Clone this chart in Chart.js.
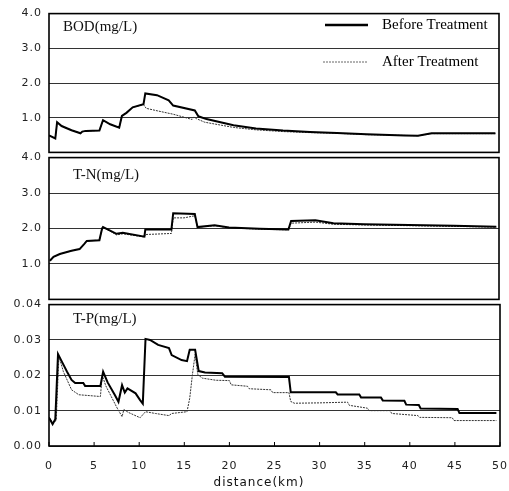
<!DOCTYPE html>
<html>
<head>
<meta charset="utf-8">
<script src="https://cdn.jsdelivr.net/npm/chart.js@4.4.1/dist/chart.umd.min.js"></script>
<style>
  html, body { margin: 0; padding: 0; background: #ffffff; }
  body { width: 509px; height: 491px; position: relative; overflow: hidden; }
  canvas { position: absolute; left: 0; }
</style>
</head>
<body>
<canvas id="c1" width="509" height="166" style="top:0px"></canvas>
<canvas id="c2" width="509" height="169" style="top:144px"></canvas>
<canvas id="c3" width="521" height="202" style="top:291px"></canvas>
<script>
// ---------------- data ----------------
const seriesNames = ['Before Treatment', 'After Treatment'];
const panelTitles = ['BOD(mg/L)', 'T-N(mg/L)', 'T-P(mg/L)'];
const xAxisTitle = 'distance(km)';

const xTickValues = [0, 5, 10, 15, 20, 25, 30, 35, 40, 45, 50];
const xTickLabels = ['0', '5', '10', '15', '20', '25', '30', '35', '40', '45', '50'];

const bodTickValues = [1, 2, 3, 4];
const bodTickLabels = ['1.0', '2.0', '3.0', '4.0'];
const tnTickValues = [1, 2, 3, 4];
const tnTickLabels = ['1.0', '2.0', '3.0', '4.0'];
const tpTickValues = [0, 0.01, 0.02, 0.03, 0.04];
const tpTickLabels = ['0.00', '0.01', '0.02', '0.03', '0.04'];

// BOD
const bodBeforeX = [0, 0.7, 0.9, 1.4, 2.5, 3.5, 3.7, 4.1, 5.6, 6.0, 6.8, 7.8, 8.1, 8.6, 9.3, 10.5, 10.7, 12.0, 13.3, 13.8, 16.2, 16.6, 17.5, 20.5, 23.0, 26.0, 29.0, 32.0, 35.3, 39.5, 41.0, 42.5, 46.0, 49.6];
const bodBefore  = [0.49, 0.40, 0.87, 0.76, 0.64, 0.55, 0.60, 0.62, 0.63, 0.93, 0.81, 0.71, 1.05, 1.14, 1.30, 1.39, 1.70, 1.65, 1.50, 1.35, 1.21, 1.04, 0.96, 0.78, 0.69, 0.63, 0.59, 0.56, 0.52, 0.49, 0.48, 0.55, 0.55, 0.55];
const bodAfterX  = [0, 0.7, 0.9, 1.4, 2.5, 3.5, 3.7, 4.1, 5.6, 6.0, 6.8, 7.8, 8.1, 8.6, 9.3, 10.5, 10.8, 12.0, 13.8, 15.9, 16.1, 16.4, 17.3, 20.5, 23.0, 26.0, 29.0, 32.0, 35.3, 39.5, 41.0, 42.5, 46.0, 49.6];
const bodAfter   = [0.49, 0.40, 0.87, 0.76, 0.64, 0.55, 0.60, 0.62, 0.63, 0.93, 0.81, 0.71, 1.05, 1.14, 1.30, 1.38, 1.27, 1.20, 1.10, 0.95, 1.02, 0.97, 0.87, 0.72, 0.65, 0.60, 0.57, 0.55, 0.51, 0.49, 0.48, 0.54, 0.54, 0.54];

// T-N
const tnBeforeX = [0.1, 0.5, 1.2, 2.5, 3.4, 3.9, 4.2, 5.6, 5.9, 6.0, 7.5, 8.2, 10.6, 10.7, 13.6, 13.8, 16.2, 16.5, 18.4, 20.0, 23.4, 26.6, 26.9, 29.6, 31.6, 35.0, 40.0, 45.0, 49.7];
const tnBefore  = [1.09, 1.20, 1.28, 1.37, 1.42, 1.56, 1.65, 1.67, 2.00, 2.04, 1.85, 1.88, 1.77, 1.97, 1.97, 2.43, 2.41, 2.04, 2.09, 2.03, 1.99, 1.97, 2.21, 2.23, 2.15, 2.12, 2.10, 2.08, 2.05];
const tnAfterX  = [0.1, 0.5, 1.2, 2.5, 3.4, 3.9, 4.2, 5.6, 5.9, 6.0, 7.5, 8.2, 10.6, 10.7, 13.6, 13.8, 15.0, 16.2, 16.5, 18.4, 20.0, 23.4, 26.6, 26.9, 29.6, 31.6, 35.0, 40.0, 45.0, 49.7];
const tnAfter   = [1.09, 1.20, 1.28, 1.37, 1.42, 1.56, 1.65, 1.67, 2.00, 2.04, 1.82, 1.85, 1.76, 1.83, 1.86, 2.30, 2.30, 2.36, 2.04, 2.08, 2.02, 1.98, 1.96, 2.15, 2.18, 2.12, 2.10, 2.08, 2.06, 2.04];

// T-P
const tpBeforeX = [0, 0.4, 0.7, 1.0, 1.4, 2.0, 2.5, 2.9, 3.8, 4.0, 5.7, 6.0, 6.5, 7.3, 7.7, 8.1, 8.4, 8.7, 9.6, 10.1, 10.4, 10.7, 11.2, 12.1, 13.3, 13.6, 14.7, 15.3, 15.6, 16.2, 16.6, 17.3, 19.2, 19.5, 26.6, 26.8, 31.8, 32.0, 34.4, 34.6, 36.8, 37.0, 39.4, 39.6, 41.0, 41.2, 45.3, 45.5, 49.6];
const tpBefore  = [0.0080, 0.0062, 0.0076, 0.0260, 0.0240, 0.0210, 0.0187, 0.0178, 0.0178, 0.0170, 0.0170, 0.0210, 0.0180, 0.0144, 0.0125, 0.0172, 0.0151, 0.0163, 0.0149, 0.0130, 0.0120, 0.0303, 0.0300, 0.0286, 0.0277, 0.0257, 0.0243, 0.0240, 0.0272, 0.0272, 0.0212, 0.0208, 0.0206, 0.0196, 0.0195, 0.0152, 0.0152, 0.0146, 0.0146, 0.0137, 0.0137, 0.0129, 0.0128, 0.0117, 0.0116, 0.0106, 0.0105, 0.0093, 0.0093];
const tpAfterX  = [0, 0.4, 0.8, 1.1, 1.6, 2.5, 3.3, 5.7, 5.9, 6.3, 7.0, 7.5, 8.1, 8.3, 8.8, 10.1, 10.7, 11.8, 13.3, 13.6, 15.3, 15.6, 15.9, 16.2, 16.5, 17.0, 18.5, 20.0, 20.2, 22.0, 22.2, 24.6, 24.8, 26.6, 26.8, 27.2, 30.0, 33.1, 33.3, 35.3, 35.5, 37.8, 38.0, 40.9, 41.1, 44.7, 44.9, 49.6];
const tpAfter   = [0.0082, 0.0066, 0.0072, 0.0254, 0.0210, 0.0159, 0.0145, 0.0140, 0.0200, 0.0170, 0.0135, 0.0110, 0.0083, 0.0103, 0.0095, 0.0080, 0.0097, 0.0092, 0.0086, 0.0092, 0.0097, 0.0135, 0.0202, 0.0260, 0.0202, 0.0192, 0.0186, 0.0185, 0.0173, 0.0169, 0.0162, 0.0159, 0.0151, 0.0151, 0.0126, 0.0121, 0.0122, 0.0124, 0.0115, 0.0107, 0.0100, 0.0100, 0.0092, 0.0086, 0.0081, 0.0080, 0.0072, 0.0072];

// ---------------- helpers ----------------
const toPoints = (xs, ys) => xs.map((x, i) => ({ x: x, y: ys[i] }));
const TICK_FONT = { family: 'DejaVu Sans', size: 11 };
const SERIF = '15px "Liberation Serif", "Times New Roman", serif';

function makeDatasets(bx, by, ax, ay) {
  return [
    { label: seriesNames[0], data: toPoints(bx, by), borderColor: '#000000', borderWidth: 2,
      pointRadius: 0, tension: 0, fill: false },
    { label: seriesNames[1], data: toPoints(ax, ay), borderColor: '#333333', borderWidth: 1,
      borderDash: [2, 1], pointRadius: 0, tension: 0, fill: false }
  ];
}

const framePlugin = {
  id: 'frame',
  beforeDraw(chart) { chart.ctx.letterSpacing = '1px'; },
  afterDatasetsDraw(chart, args, opts) {
    const { ctx, chartArea: a } = chart;
    ctx.save();
    ctx.strokeStyle = '#000';
    ctx.lineWidth = 1.6;
    ctx.strokeRect(a.left, a.top, a.right - a.left, a.bottom - a.top);
    if (opts.innerTicks) {
      const xs = chart.scales.x;
      ctx.lineWidth = 1;
      xs.ticks.forEach(t => {
        const px = xs.getPixelForValue(t.value);
        ctx.beginPath(); ctx.moveTo(px, a.bottom); ctx.lineTo(px, a.bottom - 4); ctx.stroke();
      });
    }
    ctx.fillStyle = '#111';
    ctx.textBaseline = 'middle';
    if (opts.xTitle) {
      ctx.font = '12px "DejaVu Sans", sans-serif';
      ctx.textAlign = 'center';
      ctx.fillText(opts.xTitle.text, opts.xTitle.x, opts.xTitle.y);
    }
    ctx.letterSpacing = '0px';
    ctx.font = SERIF;
    ctx.textAlign = 'left';
    ctx.fillText(opts.title, opts.titleX, opts.titleY);
    if (opts.legend) {
      const L = opts.legend;
      ctx.strokeStyle = '#000'; ctx.lineWidth = 2.5; ctx.setLineDash([]);
      ctx.beginPath(); ctx.moveTo(L.x1, L.y1); ctx.lineTo(L.x2, L.y1); ctx.stroke();
      ctx.strokeStyle = '#666'; ctx.lineWidth = 1; ctx.setLineDash([2, 1]);
      ctx.beginPath(); ctx.moveTo(L.x1 - 2, L.y2); ctx.lineTo(L.x2, L.y2); ctx.stroke();
      ctx.setLineDash([]);
      ctx.fillStyle = '#000';
      ctx.fillText(seriesNames[0], L.tx, L.y1);
      ctx.fillText(seriesNames[1], L.tx, L.y2);
    }
    ctx.restore();
  }
};

function makePanel(id, datasets, yMin, yMax, tickVals, tickLabels, pad, showX, frameOpts) {
  return new Chart(document.getElementById(id), {
    type: 'line',
    data: { datasets: datasets },
    plugins: [framePlugin],
    options: {
      responsive: false,
      animation: false,
      devicePixelRatio: 1,
      layout: { padding: pad },
      plugins: { legend: { display: false }, tooltip: { enabled: false }, frame: frameOpts },
      scales: {
        x: {
          type: 'linear', min: 0, max: 50, display: showX,
          afterBuildTicks: s => { s.ticks = xTickValues.map(v => ({ value: v })); },
          afterFit: s => { if (showX) s.height = 46; },
          grid: { display: false, drawTicks: false },
          border: { display: false },
          ticks: { font: TICK_FONT, color: '#222', padding: 14, maxRotation: 0, autoSkip: false,
                   callback: (v, i) => xTickLabels[i] },
          title: { display: false, text: xAxisTitle }
        },
        y: {
          type: 'linear', min: yMin, max: yMax,
          afterBuildTicks: s => { s.ticks = tickVals.map(v => ({ value: v })); },
          afterFit: s => { s.width = 49; },
          grid: { color: '#333', lineWidth: 1, drawTicks: false },
          border: { display: false },
          ticks: { font: TICK_FONT, color: '#222', padding: 7, autoSkip: false,
                   callback: (v, i) => tickLabels[i] }
        }
      }
    }
  });
}

makePanel('c1', makeDatasets(bodBeforeX, bodBefore, bodAfterX, bodAfter), 0, 4,
  bodTickValues, bodTickLabels, { top: 13, bottom: 8, left: 0, right: 10 }, false,
  { title: panelTitles[0], titleX: 63, titleY: 27,
    legend: { x1: 325, x2: 368, y1: 25, y2: 62, tx: 382 } });

makePanel('c2', makeDatasets(tnBeforeX, tnBefore, tnAfterX, tnAfter), 0, 4,
  tnTickValues, tnTickLabels, { top: 8, bottom: 6, left: 0, right: 10 }, false,
  { title: panelTitles[1], titleX: 73, titleY: 31 });

makePanel('c3', makeDatasets(tpBeforeX, tpBefore, tpAfterX, tpAfter), 0, 0.04,
  tpTickValues, tpTickLabels, { top: 8, bottom: 1, left: 0, right: 10 }, true,
  { title: panelTitles[2], titleX: 73, titleY: 28, innerTicks: true,
    xTitle: { text: xAxisTitle, x: 259, y: 192 } });
</script>
</body>
</html>
